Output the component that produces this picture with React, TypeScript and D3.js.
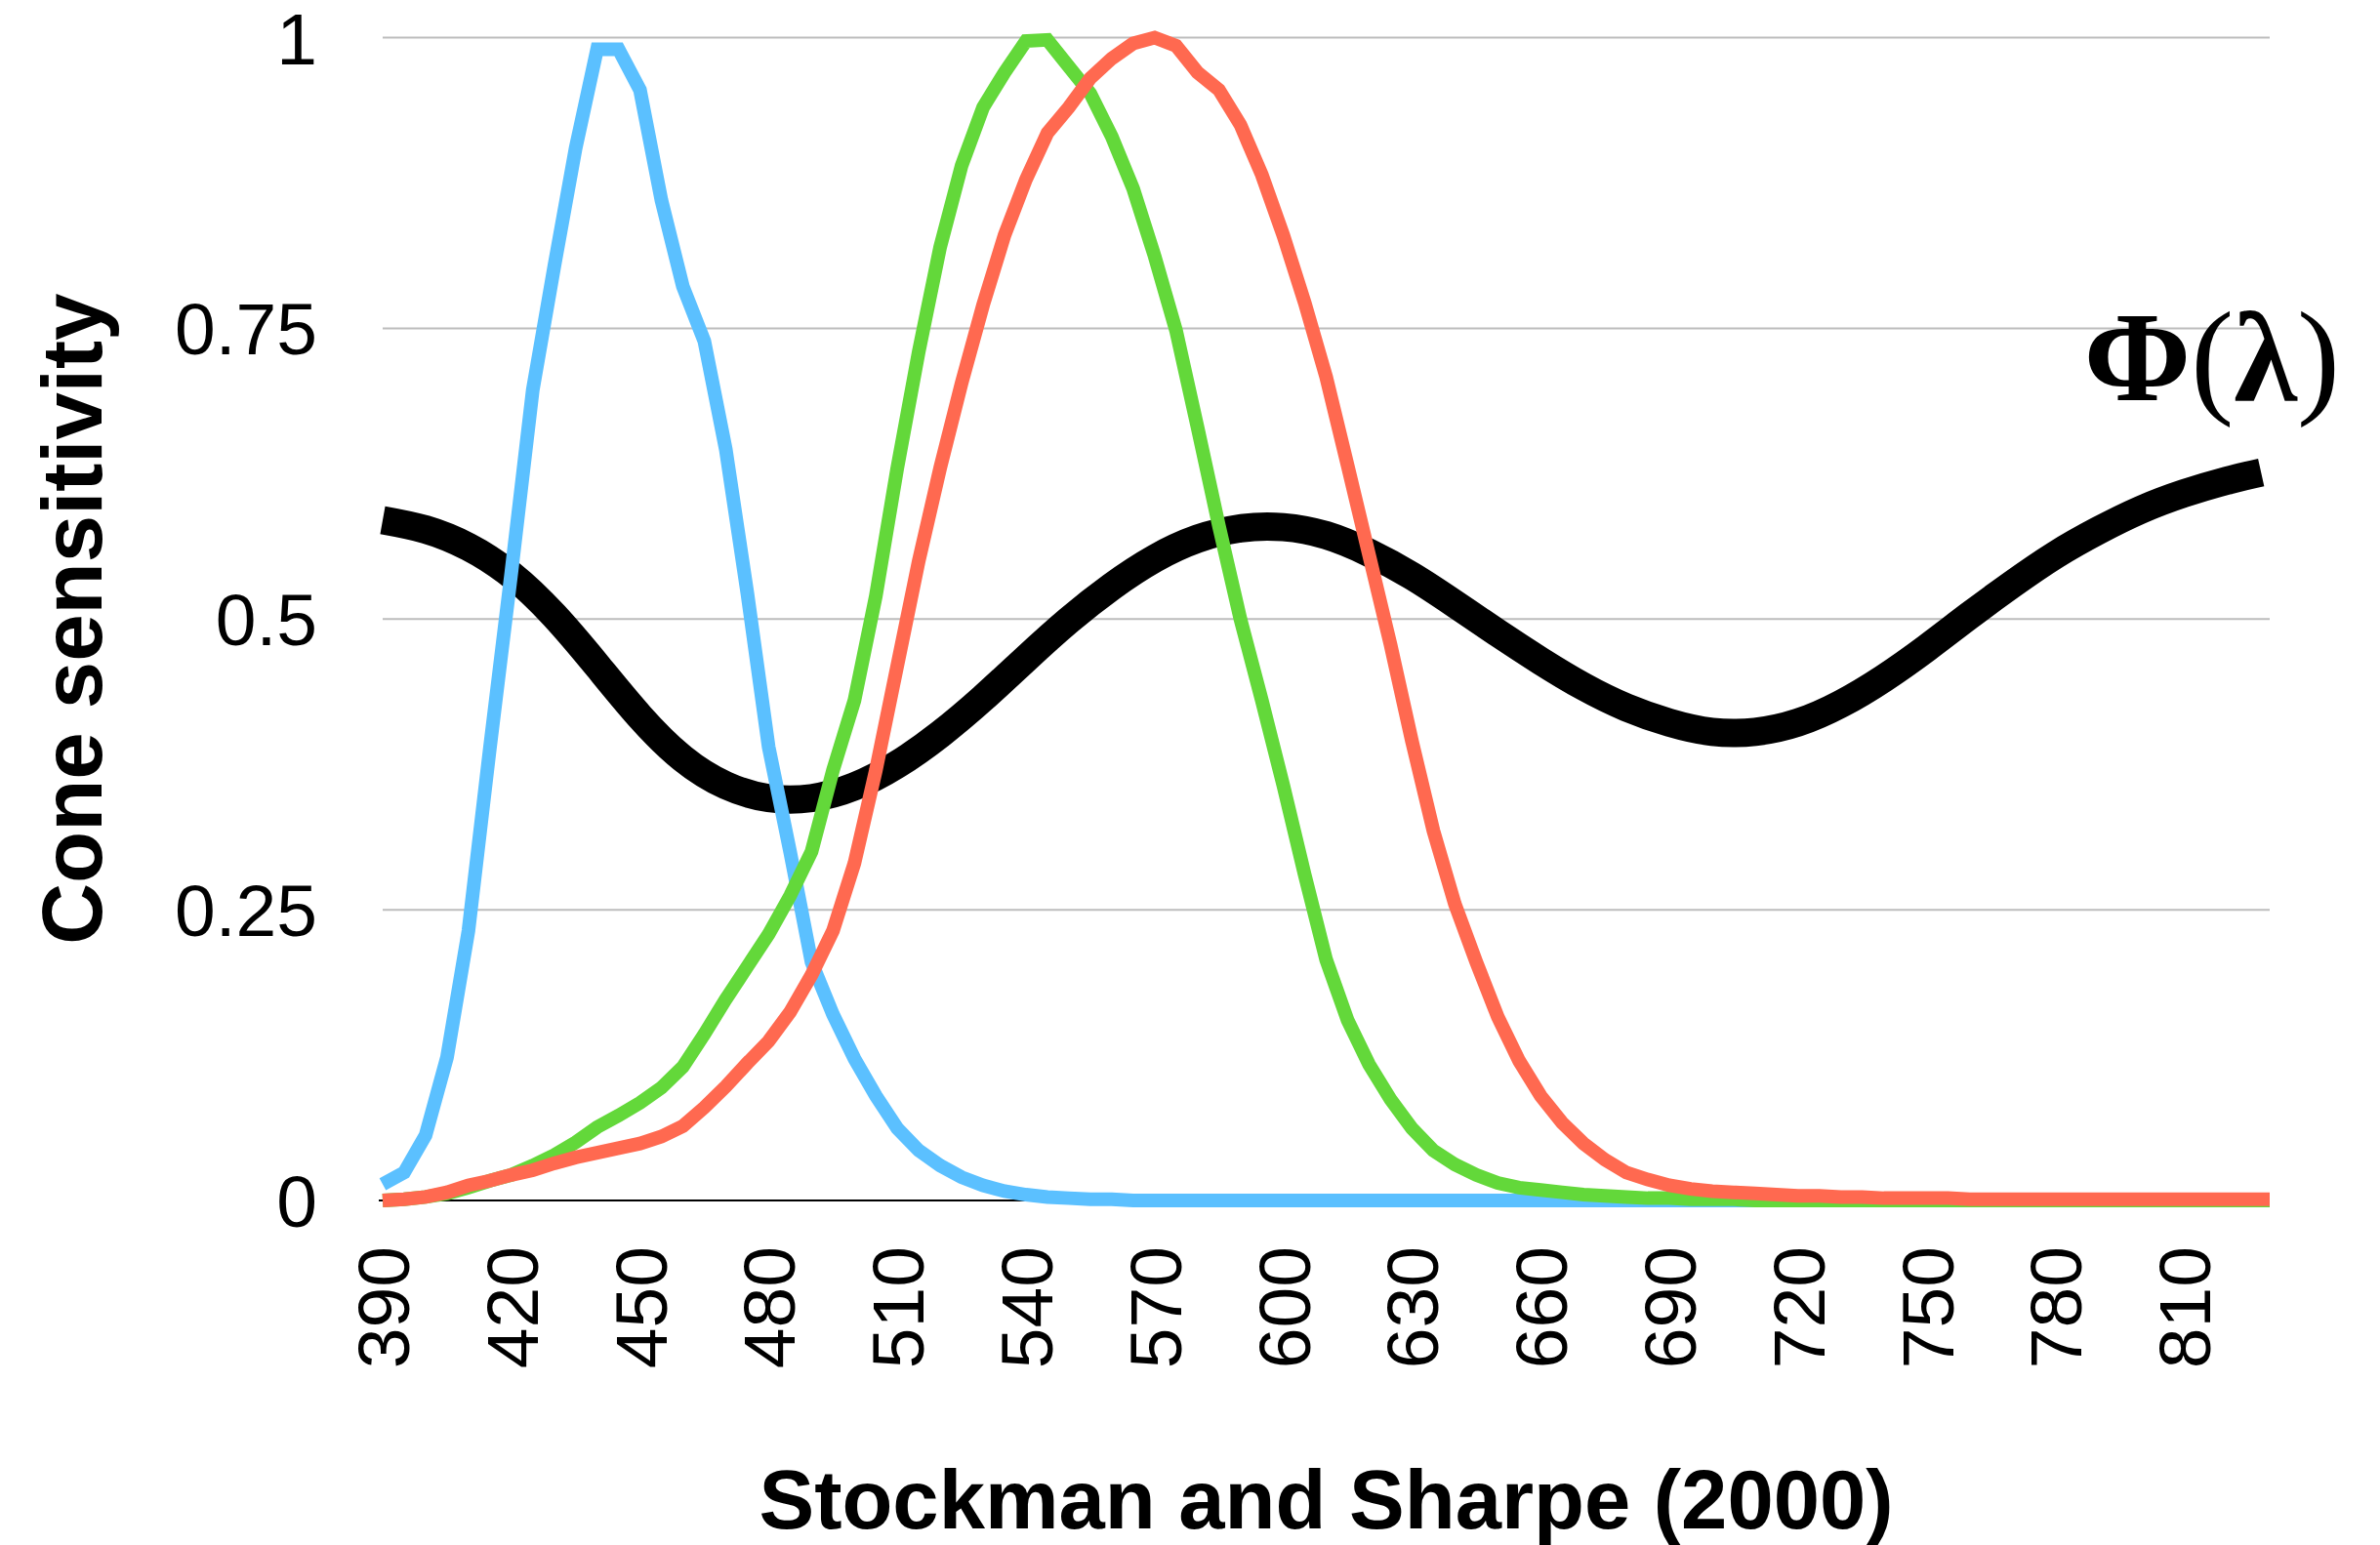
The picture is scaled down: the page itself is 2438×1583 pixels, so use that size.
import React from "react";
import * as d3 from "d3";

// Wavelength categories (nm), 5 nm steps
const wavelengths: number[] = d3.range(390, 835, 5);

// Stockman & Sharpe (2000) cone fundamentals (390..830 nm)
const sCone: number[] = [
  0.014, 0.024, 0.056, 0.123, 0.232, 0.389, 0.54, 0.697, 0.803, 0.905,
  0.99, 0.99, 0.955, 0.86, 0.786, 0.739, 0.646, 0.523, 0.39, 0.3,
  0.205, 0.16, 0.122, 0.09, 0.062, 0.043, 0.03, 0.02, 0.013, 0.008,
  0.005, 0.003, 0.002, 0.001, 0.001, 0, 0, 0, 0, 0,
  0, 0, 0, 0, 0, 0, 0, 0, 0, 0,
  0, 0, 0, 0, 0, 0, 0, 0, 0, 0,
  0, 0, 0, 0, 0, 0, 0, 0, 0, 0,
  0, 0, 0, 0, 0, 0, 0, 0, 0, 0,
  0, 0, 0, 0, 0, 0, 0, 0, 0,
];

const mCone: number[] = [
  0.0, 0.001, 0.003, 0.006, 0.011, 0.017, 0.022, 0.03, 0.039, 0.05,
  0.063, 0.073, 0.084, 0.097, 0.115, 0.143, 0.173, 0.201, 0.229, 0.262,
  0.3, 0.37, 0.43, 0.52, 0.63, 0.73, 0.82, 0.89, 0.94, 0.97,
  0.997, 0.998, 0.975, 0.952, 0.915, 0.87, 0.812, 0.748, 0.665, 0.58,
  0.5, 0.43, 0.357, 0.28, 0.207, 0.155, 0.117, 0.087, 0.062, 0.043,
  0.031, 0.022, 0.015, 0.011, 0.009, 0.007, 0.005, 0.004, 0.003, 0.002,
  0.002, 0.001, 0.001, 0.001, 0, 0, 0, 0, 0, 0,
  0, 0, 0, 0, 0, 0, 0, 0, 0, 0,
  0, 0, 0, 0, 0, 0, 0, 0, 0,
];

const lCone: number[] = [
  0.0, 0.001, 0.003, 0.007, 0.013, 0.017, 0.022, 0.026, 0.032, 0.037,
  0.041, 0.045, 0.049, 0.055, 0.064, 0.08, 0.098, 0.118, 0.137, 0.162,
  0.194, 0.232, 0.29, 0.37, 0.46, 0.55, 0.63, 0.703, 0.77, 0.83,
  0.878, 0.918, 0.94, 0.965, 0.982, 0.995, 1.0, 0.993, 0.97, 0.955,
  0.925, 0.882, 0.83, 0.772, 0.708, 0.632, 0.555, 0.478, 0.395, 0.318,
  0.255, 0.205, 0.158, 0.12, 0.09, 0.067, 0.049, 0.035, 0.024, 0.018,
  0.013, 0.01, 0.008, 0.007, 0.006, 0.005, 0.004, 0.004, 0.003, 0.003,
  0.002, 0.002, 0.002, 0.002, 0.001, 0.001, 0.001, 0.001, 0.001, 0.001,
  0.001, 0.001, 0.001, 0.001, 0.001, 0.001, 0.001, 0.001, 0.001,
];

// Phi(lambda) curve, 10 nm steps
const phiWavelengths: number[] = [
  390, 400, 410, 420, 430, 440, 450, 460, 470, 480, 490, 500, 510, 520, 530,
  540, 550, 560, 570, 580, 590, 600, 610, 620, 630, 640, 650, 660, 670, 680,
  690, 700, 710, 720, 730, 740, 750, 760, 770, 780, 790, 800, 810, 820, 828,
];
const phiValues: number[] = [
  0.585, 0.577, 0.562, 0.538, 0.503, 0.46, 0.416, 0.38, 0.357, 0.346, 0.346,
  0.356, 0.375, 0.401, 0.432, 0.466, 0.499, 0.528, 0.552, 0.569, 0.578, 0.579,
  0.572, 0.557, 0.537, 0.513, 0.488, 0.464, 0.442, 0.424, 0.411, 0.403, 0.403,
  0.411, 0.427, 0.449, 0.475, 0.503, 0.53, 0.555, 0.576, 0.594, 0.608, 0.619,
  0.626,
];

const xTickValues: number[] = [390, 420, 450, 480, 510, 540, 570, 600, 630, 660, 690, 720, 750, 780, 810];
const yTickValues: number[] = [0, 0.25, 0.5, 0.75, 1];
const yTickLabels: string[] = ["0", "0.25", "0.5", "0.75", "1"];

const W = 2438;
const H = 1583;
const LEFT = 392;
const RIGHT = 2325;
const TOP = 38.5;
const BOTTOM = 1230;

export default function App() {
  const x = d3.scaleLinear().domain([390, 830]).range([LEFT, RIGHT]);
  const y = d3.scaleLinear().domain([0, 1]).range([BOTTOM, TOP]);

  const line = d3
    .line<number>()
    .x((_, i) => x(wavelengths[i]))
    .y((d) => y(d));

  const phiLine = d3
    .line<number>()
    .x((_, i) => x(phiWavelengths[i]))
    .y((d) => y(d))
    .curve(d3.curveNatural);

  const sans = "'Liberation Sans', Arial, Helvetica, sans-serif";
  const serif = "'Liberation Serif', 'Times New Roman', serif";

  return (
    <svg
      width={W}
      height={H}
      viewBox={`0 0 ${W} ${H}`}
      style={{ position: "absolute", left: 0, top: 0, background: "#fff" }}
    >
      <rect x={0} y={0} width={W} height={H} fill="#fff" />
      {/* grid lines */}
      {yTickValues
        .filter((v) => v > 0)
        .map((v) => (
          <line key={v} x1={LEFT} x2={RIGHT} y1={y(v)} y2={y(v)} stroke="#bdbdbd" strokeWidth={2} />
        ))}
      {/* baseline */}
      <line x1={LEFT - 4} x2={RIGHT} y1={y(0)} y2={y(0)} stroke="#000" strokeWidth={2.2} />

      {/* y tick labels */}
      {yTickValues.map((v, i) => (
        <text
          key={v}
          x={325}
          y={y(v)}
          dy="0.36em"
          textAnchor="end"
          fontFamily={sans}
          fontSize={75}
          fill="#000"
        >
          {yTickLabels[i]}
        </text>
      ))}

      {/* x tick labels (rotated) */}
      {xTickValues.map((v) => (
        <text
          key={v}
          transform={`translate(${x(v)},1277) rotate(-90)`}
          dy="0.36em"
          textAnchor="end"
          fontFamily={sans}
          fontSize={75}
          fill="#000"
        >
          {String(v)}
        </text>
      ))}

      {/* Phi curve (beneath cone curves) */}
      <path d={phiLine(phiValues) || ""} fill="none" stroke="#000" strokeWidth={29} strokeLinecap="butt" />

      {/* cone curves */}
      <path d={line(sCone) || ""} fill="none" stroke="#5bc0ff" strokeWidth={14} strokeLinejoin="miter" />
      <path d={line(mCone) || ""} fill="none" stroke="#63d83a" strokeWidth={14} strokeLinejoin="miter" />
      <path d={line(lCone) || ""} fill="none" stroke="#ff6950" strokeWidth={14} strokeLinejoin="miter" />

      {/* Phi label */}
      <text x={2397} y={410} textAnchor="end" fontFamily={serif} fontSize={132} fill="#000">
        <tspan fontWeight="bold">Φ</tspan>
        <tspan>(</tspan>
        <tspan fontWeight="bold">λ</tspan>
        <tspan>)</tspan>
      </text>

      {/* axis titles */}
      <text
        transform={`translate(104,${(TOP + BOTTOM) / 2}) rotate(-90)`}
        textAnchor="middle"
        fontFamily={sans}
        fontWeight="bold"
        fontSize={87}
        fill="#000"
      >
        Cone sensitivity
      </text>
      <text
        x={(LEFT + RIGHT) / 2}
        y={1566}
        textAnchor="middle"
        fontFamily={sans}
        fontWeight="bold"
        fontSize={85}
        fill="#000"
      >
        Stockman and Sharpe (2000)
      </text>
    </svg>
  );
}
